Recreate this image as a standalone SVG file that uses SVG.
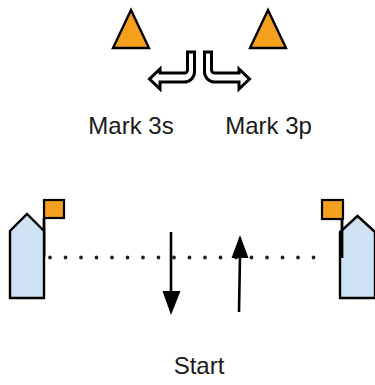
<svg xmlns="http://www.w3.org/2000/svg" width="375" height="385" viewBox="0 0 375 385">
<style>
.mark{fill:#F5A01C;stroke:#000;stroke-width:2.4;stroke-linejoin:miter}
.boat{fill:#CFE2F3;stroke:#000;stroke-width:2.4;stroke-linejoin:miter}
.flag{fill:#F5A01C;stroke:#000;stroke-width:2.2}
.pole{stroke:#000;stroke-width:2.8}
.turn{fill:#fff;stroke:#000;stroke-width:3;stroke-linejoin:miter}
.lbl{font-family:"Liberation Sans",Arial,sans-serif;font-size:24px;fill:#1a1a1a;text-anchor:middle}
.shaft{stroke:#000;stroke-width:2.6;fill:none}
.head{fill:#000}
</style>
<rect width="375" height="385" fill="#fff"/>
<g id="mark3s">
<polygon class="mark" points="131,10 113,48 149,48"/>
<text class="lbl" x="131" y="134">Mark 3s</text>
</g>
<g id="mark3p">
<polygon class="mark" points="268,10 250,48 286,48"/>
<text class="lbl" x="268.5" y="134">Mark 3p</text>
</g>
<g id="turn-left">
<path class="turn" d="M194.5,52 H187.5 V70 A3,3 0 0 1 184.5,73 H160 V69 L149.5,79 L160,89 V82 H184 A10.5,10 0 0 0 194.5,72 Z"/>
</g>
<g id="turn-right">
<path class="turn" d="M204.5,52 H211.5 V70 A3,3 0 0 0 214.5,73 H239 V69 L249.5,79 L239,89 V82 H215 A10.5,10 0 0 1 204.5,72 Z"/>
</g>
<g id="boat-left">
<line class="pole" x1="44" y1="218" x2="44" y2="257"/>
<polygon class="boat" points="10,298 10,231 27,214 44,231 44,298"/>
<rect class="flag" x="44" y="200" width="20" height="18"/>
</g>
<g id="boat-right">
<polygon class="boat" points="340,298 340,232 357.5,216 375,232 375,298"/>
<line class="pole" x1="342" y1="219" x2="342" y2="258"/>
<rect class="flag" x="322" y="200" width="21" height="19"/>
</g>
<g id="connectors">
<line x1="50" y1="257.5" x2="329" y2="257.5" stroke="#222" stroke-width="3.8" stroke-linecap="round" stroke-dasharray="0 15.5"/>
<line class="shaft" x1="171" y1="232" x2="171" y2="293"/>
<polygon class="head" points="162.5,291 180.5,291 171,315"/>
<line class="shaft" x1="239" y1="312" x2="240" y2="256"/>
<polygon class="head" points="231.5,258 248.5,258 240,235"/>
</g>
<g id="start">
<text class="lbl" x="199" y="374">Start</text>
</g>
</svg>
